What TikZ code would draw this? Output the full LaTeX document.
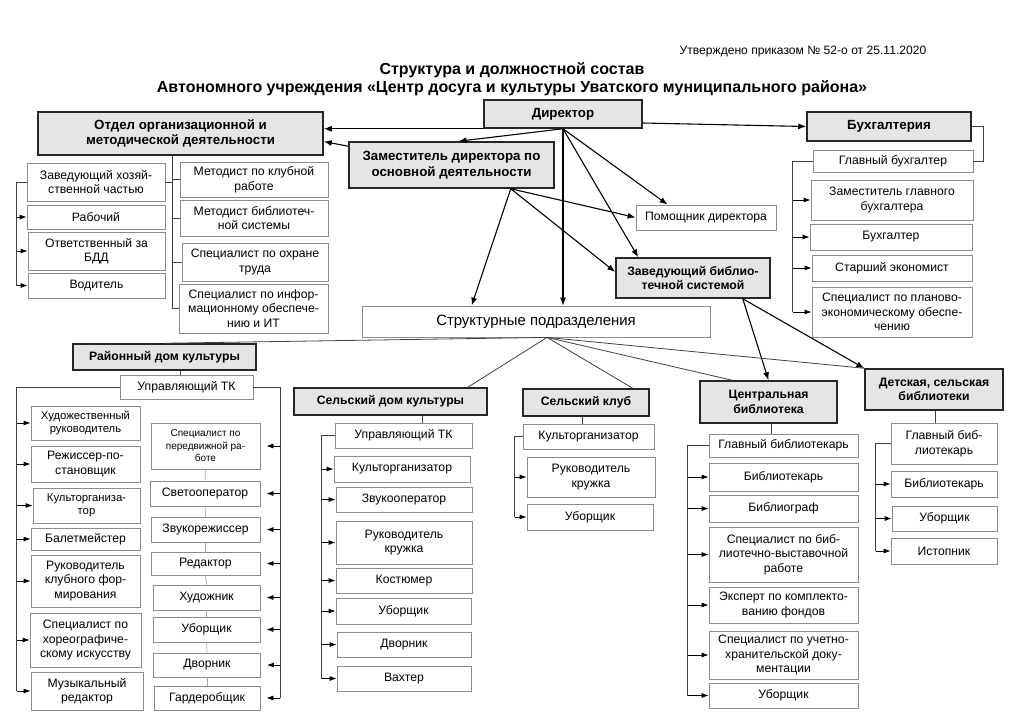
\documentclass[tikz,border=0pt]{standalone}
\usepackage{fontspec}
\setmainfont{Liberation Sans}
\usetikzlibrary{arrows.meta}
\tikzset{hbox/.style={draw=black!85, line width=1.5pt, fill=black!10, align=center, inner sep=1pt, font=\fontsize{13.3}{15.5}\selectfont\bfseries}}
\tikzset{hsub/.style={hbox, font=\fontsize{12.2}{14.5}\selectfont\bfseries}}
\tikzset{wbox/.style={draw=black!45, line width=0.8pt, fill=white, align=center, inner sep=1pt, font=\fontsize{12.2}{14.5}\selectfont}}
\tikzset{wmid/.style={wbox, font=\fontsize{11.3}{13.5}\selectfont}}
\tikzset{wsmall/.style={wbox, font=\fontsize{10}{12.5}\selectfont}}
\tikzset{ln/.style={draw=black!75, line width=0.8pt}}
\tikzset{tie/.style={draw=black!35, line width=0.7pt}}
\tikzset{arr/.style={-{Latex[length=8pt,width=6pt]}, draw=black, line width=1.1pt}}
\tikzset{sarr/.style={->, draw=black, line width=0.8pt}}

\begin{document}
\begin{tikzpicture}[x=1pt, y=-1pt, >={Latex[length=7pt,width=5pt]}]
		\path[use as bounding box, fill=white] (0,0) rectangle (1024,724);
		\node[font=\fontsize{12.1}{14}\selectfont] (appr) at (803,52) {Утверждено приказом № 52-о от 25.11.2020};
		\node[font=\fontsize{16}{18}\selectfont\bfseries, align=center] (ttl) at (512,79) {Структура и должностной состав\\Автономного учреждения «Центр досуга и культуры Уватского муниципального района»};

		\node[hbox, minimum width=158, minimum height=28] (dir) at (563,114) {Директор};
		\node[hbox, minimum width=285, minimum height=43] (otd) at (180.5,133.5) {Отдел организационной и\\методической деятельности};
		\node[hbox, minimum width=205, minimum height=46] (zam) at (451.5,165) {Заместитель директора по\\основной деятельности};
		\node[hbox, minimum width=164, minimum height=29] (bux) at (889,126.5) {Бухгалтерия};
		\node[wbox, minimum width=140, minimum height=25] (pom) at (706,217.5) {Помощник директора};
		\node[hsub, minimum width=154, minimum height=40] (zav) at (693,278) {Заведующий библио-\\течной системой};
		\node[wbox, font=\fontsize{14.9}{17}\selectfont, minimum width=348, minimum height=31] (str) at (536,321.5) {Структурные подразделения};

		\node[wbox, minimum width=138, minimum height=38] (zhch) at (96,182) {Заведующий хозяй-\\ственной частью};
		\node[wbox, minimum width=138, minimum height=24] (rab) at (96,217) {Рабочий};
		\node[wbox, minimum width=137, minimum height=38] (bdd) at (96.5,251) {Ответственный за\\БДД};
		\node[wbox, minimum width=137, minimum height=25] (vod) at (96.5,285.5) {Водитель};
		\node[wbox, minimum width=148, minimum height=35] (mkr) at (254,179.5) {Методист по клубной\\работе};
		\node[wbox, minimum width=148, minimum height=36] (mbs) at (254,218) {Методист библиотеч-\\ной системы};
		\node[wbox, minimum width=146, minimum height=38] (sot) at (255,262) {Специалист по охране\\труда};
		\node[wbox, minimum width=149, minimum height=49] (sit) at (253.5,308.5) {Специалист по инфор-\\мационному обеспече-\\нию и ИТ};

		\node[wbox, minimum width=160, minimum height=22] (gb) at (893,161) {Главный бухгалтер};
		\node[wbox, minimum width=162, minimum height=40] (zgb) at (892,200) {Заместитель главного\\бухгалтера};
		\node[wbox, minimum width=162, minimum height=26] (bg) at (891,237) {Бухгалтер};
		\node[wbox, minimum width=160, minimum height=26] (sek) at (892,268) {Старший экономист};
		\node[wbox, minimum width=160, minimum height=50] (spe) at (892,312) {Специалист по планово-\\экономическому обеспе-\\чению};

		\node[hsub, minimum width=183, minimum height=26] (rdk) at (164.5,357) {Районный дом культуры};
		\node[wbox, minimum width=133, minimum height=24] (rtk) at (186.5,387) {Управляющий ТК};
		\node[wmid, minimum width=109, minimum height=34] (hr) at (85.5,423) {Художественный\\руководитель};
		\node[wbox, minimum width=109, minimum height=36] (rp) at (85.5,464) {Режиссер-по-\\становщик};
		\node[wmid, minimum width=107, minimum height=35] (kul) at (86.5,505.5) {Культорганиза-\\тор};
		\node[wbox, minimum width=109, minimum height=22] (bal) at (85.5,539) {Балетмейстер};
		\node[wbox, minimum width=109, minimum height=52] (rkf) at (85.5,581) {Руководитель\\клубного фор-\\мирования};
		\node[wbox, minimum width=111, minimum height=54] (sxi) at (85.5,640) {Специалист по\\хореографиче-\\скому искусству};
		\node[wbox, minimum width=112, minimum height=38] (mr) at (87,691) {Музыкальный\\редактор};
		\node[wsmall, minimum width=109, minimum height=46] (spr) at (205.5,446) {Специалист по\\передвижной ра-\\боте};
		\node[wbox, minimum width=110, minimum height=25] (svo) at (205,493.5) {Светооператор};
		\node[wbox, minimum width=109, minimum height=25] (zvr) at (205.5,529.5) {Звукорежиссер};
		\node[wbox, minimum width=109, minimum height=23] (red) at (205.5,563.5) {Редактор};
		\node[wbox, minimum width=107, minimum height=25] (xud) at (206.5,597.5) {Художник};
		\node[wbox, minimum width=107, minimum height=25] (ub1) at (206.5,629.5) {Уборщик};
		\node[wbox, minimum width=107, minimum height=24] (dv1) at (207,665) {Дворник};
		\node[wbox, minimum width=106, minimum height=24] (gar) at (207,698) {Гардеробщик};

		\node[hsub, minimum width=193, minimum height=27] (sdk) at (390.5,401.5) {Сельский дом культуры};
		\node[wbox, minimum width=137, minimum height=25] (stk) at (403.5,435.5) {Управляющий ТК};
		\node[wbox, minimum width=136, minimum height=26] (sk1) at (402,469) {Культорганизатор};
		\node[wbox, minimum width=136, minimum height=25] (szo) at (404,499.5) {Звукооператор};
		\node[wbox, minimum width=136, minimum height=43] (srk) at (404,542.5) {Руководитель\\кружка};
		\node[wbox, minimum width=136, minimum height=25] (kos) at (404,580.5) {Костюмер};
		\node[wbox, minimum width=135, minimum height=26] (ub2) at (403.5,611) {Уборщик};
		\node[wbox, minimum width=134, minimum height=25] (dv2) at (404,644.5) {Дворник};
		\node[wbox, minimum width=134, minimum height=25] (vax) at (404,678.5) {Вахтер};

		\node[hsub, minimum width=126, minimum height=27] (sk) at (586,402.5) {Сельский клуб};
		\node[wbox, minimum width=131, minimum height=25] (skk) at (588.5,436.5) {Культорганизатор};
		\node[wbox, minimum width=128, minimum height=40] (srk2) at (591,477) {Руководитель\\кружка};
		\node[wbox, minimum width=126, minimum height=26] (sub) at (590,517) {Уборщик};

		\node[hsub, minimum width=137, minimum height=42] (cb) at (768.5,402) {Центральная\\библиотека};
		\node[wbox, minimum width=149, minimum height=23] (gbl) at (783.5,445.5) {Главный библиотекарь};
		\node[wbox, minimum width=149, minimum height=28] (bib) at (783.5,477) {Библиотекарь};
		\node[wbox, minimum width=149, minimum height=27] (bgr) at (783.5,508.5) {Библиограф};
		\node[wbox, minimum width=149, minimum height=55] (sbv) at (783.5,554.5) {Специалист по биб-\\лиотечно-выставочной\\работе};
		\node[wbox, minimum width=149, minimum height=36] (ekf) at (783.5,605) {Эксперт по комплекто-\\ванию фондов};
		\node[wbox, minimum width=149, minimum height=48] (suh) at (783.5,655) {Специалист по учетно-\\хранительской доку-\\ментации};
		\node[wbox, minimum width=149, minimum height=25] (ub3) at (783.5,695.5) {Уборщик};

		\node[hsub, minimum width=138, minimum height=41] (db) at (934,389.5) {Детская, сельская\\библиотеки};
		\node[wbox, minimum width=106, minimum height=41] (gbd) at (944,443.5) {Главный биб-\\лиотекарь};
		\node[wbox, minimum width=106, minimum height=26] (bbd) at (944,484) {Библиотекарь};
		\node[wbox, minimum width=105, minimum height=25] (ubd) at (944.5,518.5) {Уборщик};
		\node[wbox, minimum width=106, minimum height=26] (ist) at (944,551) {Истопник};

		\coordinate (zfan) at ([xshift=-44pt]zam.south east);
		\coordinate (lfan) at ([xshift=-28pt]zav.south east);
		\coordinate (sfan) at ([xshift=11pt]str.south);
		\draw[arr] (dir.south west) -- (dir.south west -| otd.east);
		\draw[arr] ([yshift=-5pt]zam.north west) -- ([yshift=-8pt]otd.east);
		\draw[arr] ([yshift=-9pt]dir.east) -- (bux.west);
		\draw[arr] (dir.south) -- ([xshift=7pt]zam.north);
		\draw[arr] (dir.south) -- (dir.south |- str.north);
		\draw[arr] (dir.south) -- ([xshift=32pt]pom.north west);
		\draw[arr] (dir.south) -- ([xshift=23pt]zav.north west);
		\draw[arr] (zfan) -- ([xshift=110pt]str.north west);
		\draw[arr] (zfan) -- (pom.west);
		\draw[arr] (zfan) -- ([yshift=6pt]zav.west);
		\draw[arr] (lfan) -- (cb.north);
		\draw[arr] (lfan) -- (db.north west);
		\draw[ln] (sfan) -- (rdk.north);
		\draw[ln] (sfan) -- ([xshift=-20pt]sdk.north east);
		\draw[ln] (sfan) -- ([xshift=-17pt]sk.north east);
		\draw[ln] (sfan) -- ([xshift=33pt]cb.north west);
		\draw[ln] (sfan) -- (db.north west);

		\coordinate (otdv) at ([xshift=-8.5pt]otd.south);
		\coordinate (otdb) at ([xshift=-10pt]zhch.west);
		\draw[ln] (otdv) -- (otdv |- sit.west);
		\draw[ln] (otdv |- mkr.west) -- (mkr.west);
		\draw[ln] (otdv |- mbs.west) -- (mbs.west);
		\draw[ln] (otdv |- sot.west) -- (sot.west);
		\draw[ln] (otdv |- sit.west) -- (sit.west);
		\draw[ln] (otdv |- zhch.east) -- (zhch.east);
		\draw[ln] (zhch.west) -- (otdb) -- (otdb |- vod.west);
		\draw[sarr] (otdb |- rab.west) -- (rab.west);
		\draw[sarr] (otdb |- bdd.west) -- (bdd.west);
		\draw[sarr] (otdb |- vod.west) -- (vod.west);

		\coordinate (buxb) at ([xshift=-20pt]gb.west);
		\draw[ln] (bux.east) -- ++(12,0) |- (gb.east);
		\draw[ln] (gb.west) -- (buxb) -- (buxb |- spe.west);
		\draw[sarr] (buxb |- zgb.west) -- (zgb.west);
		\draw[sarr] (buxb |- bg.west) -- (bg.west);
		\draw[sarr] (buxb |- sek.west) -- (sek.west);
		\draw[sarr] (buxb |- spe.west) -- (spe.west);

		\coordinate (rdkt) at ([xshift=-6pt]rtk.north);
		\coordinate (rdkL) at ([xshift=-103pt]rtk.west);
		\coordinate (rdkR) at ([xshift=27pt]rtk.east);
		\draw[ln] (rdkt) -- (rdkt |- rdk.south);
		\draw[ln] (rtk.west) -- (rdkL) -- (rdkL |- mr.west);
		\draw[sarr] (rdkL |- hr.west) -- (hr.west);
		\draw[sarr] (rdkL |- rp.west) -- (rp.west);
		\draw[sarr] (rdkL |- kul.west) -- (kul.west);
		\draw[sarr] (rdkL |- bal.west) -- (bal.west);
		\draw[sarr] (rdkL |- rkf.west) -- (rkf.west);
		\draw[sarr] (rdkL |- sxi.west) -- (sxi.west);
		\draw[sarr] (rdkL |- mr.west) -- (mr.west);
		\draw[ln] (rtk.east) -- (rdkR) -- (rdkR |- gar.east);
		\draw[sarr] (rdkR |- spr.east) -- ([xshift=6pt]spr.east);
		\draw[sarr] (rdkR |- svo.east) -- ([xshift=6pt]svo.east);
		\draw[sarr] (rdkR |- zvr.east) -- ([xshift=6pt]zvr.east);
		\draw[sarr] (rdkR |- red.east) -- ([xshift=6pt]red.east);
		\draw[sarr] (rdkR |- xud.east) -- ([xshift=6pt]xud.east);
		\draw[sarr] (rdkR |- ub1.east) -- ([xshift=6pt]ub1.east);
		\draw[sarr] (rdkR |- dv1.east) -- ([xshift=6pt]dv1.east);
		\draw[sarr] (rdkR |- gar.east) -- ([xshift=6pt]gar.east);
		\draw[tie] (spr.south) -- (svo.north);
		\draw[tie] (svo.south) -- (zvr.north);
		\draw[tie] (zvr.south) -- (red.north);
		\draw[tie] (red.south) -- (xud.north);
		\draw[tie] (xud.south) -- (ub1.north);
		\draw[tie] (ub1.south) -- (dv1.north);
		\draw[tie] (dv1.south) -- (gar.north);

		\coordinate (sdkt) at ([xshift=19pt]stk.north);
		\coordinate (sdkb) at ([xshift=-13pt]stk.west);
		\draw[ln] (sdkt) -- (sdkt |- sdk.south);
		\draw[ln] (stk.west) -- (sdkb) -- (sdkb |- vax.west);
		\draw[sarr] (sdkb |- sk1.west) -- (sk1.west);
		\draw[sarr] (sdkb |- szo.west) -- (szo.west);
		\draw[sarr] (sdkb |- srk.west) -- (srk.west);
		\draw[sarr] (sdkb |- kos.west) -- (kos.west);
		\draw[sarr] (sdkb |- ub2.west) -- (ub2.west);
		\draw[sarr] (sdkb |- dv2.west) -- (dv2.west);
		\draw[sarr] (sdkb |- vax.west) -- (vax.west);

		\coordinate (skt) at ([xshift=-6.5pt]skk.north);
		\coordinate (skb) at ([xshift=-8pt]skk.west);
		\draw[ln] (skt) -- (skt |- sk.south);
		\draw[ln] (skk.west) -- (skb) -- (skb |- sub.west);
		\draw[sarr] (skb |- srk2.west) -- (srk2.west);
		\draw[sarr] (skb |- sub.west) -- (sub.west);

		\coordinate (cbt) at ([xshift=-12.5pt]gbl.north);
		\coordinate (cbb) at ([xshift=-21pt]gbl.west);
		\draw[ln] (cbt) -- (cbt |- cb.south);
		\draw[ln] (gbl.west) -- (cbb) -- (cbb |- ub3.west);
		\draw[sarr] (cbb |- bib.west) -- (bib.west);
		\draw[sarr] (cbb |- bgr.west) -- (bgr.west);
		\draw[sarr] (cbb |- sbv.west) -- (sbv.west);
		\draw[sarr] (cbb |- ekf.west) -- (ekf.west);
		\draw[sarr] (cbb |- suh.west) -- (suh.west);
		\draw[sarr] (cbb |- ub3.west) -- (ub3.west);

		\coordinate (dbt) at ([xshift=-9pt]gbd.north);
		\coordinate (dbb) at ([xshift=-15pt]gbd.west);
		\draw[ln] (dbt) -- (dbt |- db.south);
		\draw[ln] (gbd.west) -- (dbb) -- (dbb |- ist.west);
		\draw[sarr] (dbb |- bbd.west) -- (bbd.west);
		\draw[sarr] (dbb |- ubd.west) -- (ubd.west);
		\draw[sarr] (dbb |- ist.west) -- (ist.west);
\end{tikzpicture}
\end{document}
